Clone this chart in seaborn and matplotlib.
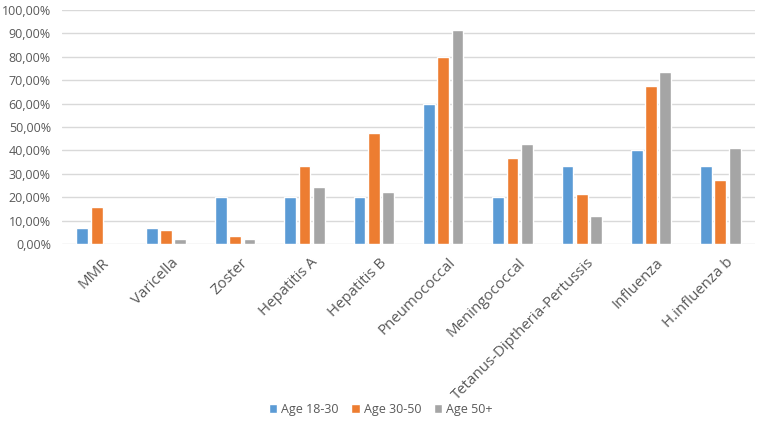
import matplotlib
matplotlib.use("Agg")
import matplotlib.pyplot as plt
import matplotlib.transforms as mtransforms
import seaborn as sns
import pandas as pd
from matplotlib.ticker import FuncFormatter, MultipleLocator

categories = ["MMR", "Varicella", "Zoster", "Hepatitis A", "Hepatitis B", "Pneumococcal",
              "Meningococcal", "Tetanus-Diptheria-Pertussis", "Influenza", "H.influenza b"]
age_18_30 = [6.67, 6.67, 20.0, 20.0, 20.0, 60.0, 20.0, 33.33, 40.0, 33.33]
age_30_50 = [15.6, 5.9, 3.6, 33.3, 47.6, 80.0, 36.8, 21.3, 67.6, 27.4]
age_50_plus = [0.0, 2.0, 2.0, 24.4, 22.2, 91.6, 42.9, 12.1, 73.4, 40.9]
series_names = ["Age 18-30", "Age 30-50", "Age 50+"]
colors = ["#5B9BD5", "#ED7D31", "#A5A5A5"]

rows = []
for name, vals in zip(series_names, [age_18_30, age_30_50, age_50_plus]):
    for c, v in zip(categories, vals):
        rows.append({"Vaccine": c, "Group": name, "Value": v})
df = pd.DataFrame(rows)

sns.set_theme(style="white")
plt.rcParams['font.family'] = ['Open Sans', 'DejaVu Sans']

fig = plt.figure(figsize=(7.61, 4.23), dpi=100)
ax = fig.add_axes([62/761, 1 - 244/423, 693/761, 234/423])

sns.barplot(data=df, x="Vaccine", y="Value", hue="Group", palette=colors,
            width=0.62, gap=0.18, ax=ax, legend=True, saturation=1)

ax.set_ylim(0, 100)
ax.yaxis.set_major_locator(MultipleLocator(10))
ax.yaxis.set_major_formatter(FuncFormatter(lambda v, p: f"{v:.2f}%".replace(".", ",")))
ax.grid(axis="y", color="#D9D9D9", linewidth=1)
ax.set_axisbelow(True)
for s in ax.spines.values():
    s.set_visible(False)
ax.set_xlabel("")
ax.set_ylabel("")
ax.tick_params(axis="both", length=0, colors="#595959")
ax.tick_params(axis="y", pad=8, labelsize=9)
ax.tick_params(axis="x", pad=8, labelsize=10.8)
plt.setp(ax.get_xticklabels(), rotation=45, ha="right", rotation_mode="anchor")
offset = mtransforms.ScaledTranslation(5/100, 0, fig.dpi_scale_trans)
for lbl in ax.get_xticklabels():
    lbl.set_transform(lbl.get_transform() + offset)
ax.set_xlim(-0.5, len(categories) - 0.5)

handles, labels = ax.get_legend_handles_labels()
ax.legend_.remove()
fig.legend(handles, labels, loc="center", bbox_to_anchor=(0.5, 1 - 409/423), ncol=3,
           frameon=False, fontsize=9, handlelength=0.7, handleheight=0.7,
           handletextpad=0.3, columnspacing=1.0, labelcolor="#595959")

fig.savefig("out.png", dpi=100)
